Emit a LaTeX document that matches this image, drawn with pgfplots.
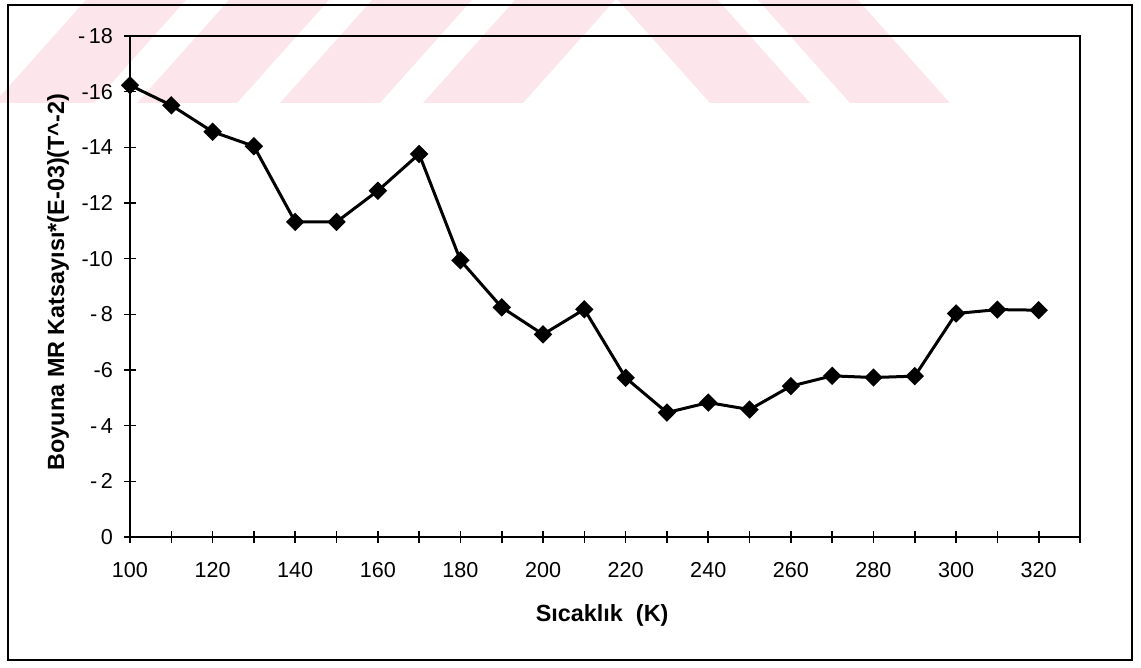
\documentclass[border=0pt]{standalone}
\usepackage{pgfplots}
\pgfplotsset{compat=1.18}
\usepackage{fontspec}
\setmainfont{Liberation Sans}
\definecolor{wmpink}{RGB}{252,230,235}

\begin{document}
\begin{tikzpicture}[x=0.5pt,y=-0.5pt]
\useasboundingbox (0,0) rectangle (1141,668);
% faint striped emblem behind the chart
\begin{scope}
\clip (0,0) rectangle (1141,103);
\foreach \a in {-6,137,280,423}{
  \fill[wmpink] (\a,103) -- (\a+100,103) -- (\a+192,0) -- (\a+92,0) -- cycle;
}
\foreach \a in {710,850}{
  \fill[wmpink] (\a,103) -- (\a+100,103) -- (\a+8,0) -- (\a-92,0) -- cycle;
}
\end{scope}
% outer frame
\draw[line width=1.3pt] (8,5) rectangle (1132,660);

\begin{axis}[
  at={(65pt,-268.5pt)}, anchor=south west,
  scale only axis, width=475pt, height=250.5pt,
  xmin=100, xmax=330, ymin=-18, ymax=0,
  y dir=reverse,
  axis line style={line width=1.1pt},
  tick style={line width=0.8pt, black},
  tick align=center, major tick length=6pt, minor tick length=6pt,
  xtick pos=bottom, ytick pos=left,
  xtick={100,120,140,160,180,200,220,240,260,280,300,320},
  xticklabels={100,120,140,160,180,200,220,240,260,280,300,320},
  minor xtick={110,130,150,170,190,210,230,250,270,290,310,330},
  ytick={-18,-16,-14,-12,-10,-8,-6,-4,-2,0},
  yticklabels={-\,18,-16,-14,-12,-10,-\,8,-6,-\,4,-\,2,0},
  ticklabel style={font=\fontsize{10.8}{12}\selectfont},
  xticklabel style={yshift=-6pt},
  yticklabel style={xshift=-2pt},
  xlabel={Sıcaklık\ \ (K)},
  ylabel={Boyuna MR Katsayısı*(E-03)(T\textasciicircum-2)},
  label style={font=\fontsize{11.7}{13}\selectfont\bfseries},
  xlabel style={at={(axis description cs:0.497,-0.156)}, anchor=center},
  ylabel style={at={(axis description cs:-0.0758,0.509)}, anchor=center},
]
\addplot[black, line width=1.5pt, mark=square*, mark size=2.5pt,
         mark options={rotate=45, solid}]
  coordinates {
  (100,-16.23) (110,-15.51) (120,-14.56) (130,-14.04) (140,-11.32)
  (150,-11.32) (160,-12.44) (170,-13.76) (180,-9.94) (190,-8.25)
  (200,-7.28) (210,-8.18) (220,-5.72) (230,-4.47) (240,-4.83)
  (250,-4.58) (260,-5.42) (270,-5.79) (280,-5.73) (290,-5.78)
  (300,-8.03) (310,-8.17) (320,-8.15)
  };
\end{axis}
\end{tikzpicture}
\end{document}
